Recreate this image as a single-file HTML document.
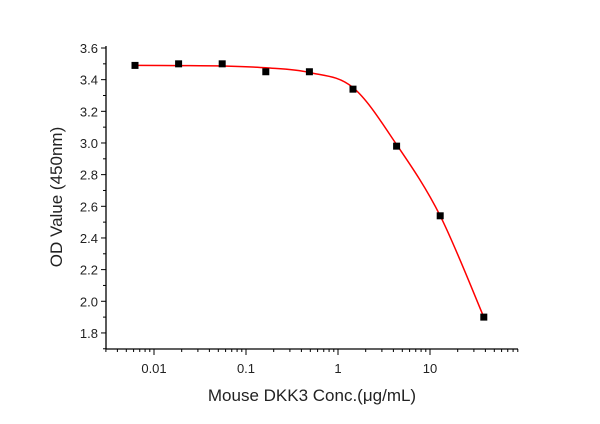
<!DOCTYPE html>
<html><head><meta charset="utf-8"><style>
html,body{margin:0;padding:0;background:#fff;}
svg text{font-family:"Liberation Sans",sans-serif;fill:#222;}
</style></head><body>
<svg id="s" width="600" height="419" xmlns="http://www.w3.org/2000/svg"></svg>
<script>
var s=document.getElementById('s'),h='';
function Y(v){return 48+(3.6-v)*158.3;}
function X(x){return 338+Math.log10(x)*92;}
h+='<line x1="106" y1="46" x2="106" y2="349" stroke="#000" stroke-width="1.3"/>';
h+='<line x1="106" y1="349" x2="518" y2="349" stroke="#000" stroke-width="1.3"/>';
for(var i=0;i<=19;i++){var v=1.7+i*0.1;var y=Y(v);var maj=(i%2==1);
 h+='<line x1="'+(maj?101:103)+'" y1="'+y+'" x2="106" y2="'+y+'" stroke="#000"/>';
 if(maj)h+='<text x="98" y="'+(y+5)+'" font-size="13" text-anchor="end">'+v.toFixed(1)+'</text>';}
for(var d=-3;d<=1;d++){for(var m=1;m<=9;m++){var x=Math.pow(10,d)*m;if(x<0.003||x>90.1)continue;var px=X(x);
 var maj=(m==1);h+='<line x1="'+px+'" y1="349" x2="'+px+'" y2="'+(maj?355:352)+'" stroke="#000"/>';
 if(maj)h+='<text x="'+px+'" y="373" font-size="13" text-anchor="middle">'+(d<0?x.toFixed(-d):x)+'</text>';}}
var cv=[3.49,3.489,3.486,3.475,3.445,3.35,2.99,2.54,1.90];
var P=cv.map(function(v,i){return [135+43.6*i,Y(v)];});
var p='M'+P[0][0]+','+P[0][1];
for(var i=0;i<P.length-1;i++){var p0=P[Math.max(i-1,0)],p1=P[i],p2=P[i+1],p3=P[Math.min(i+2,P.length-1)];
 p+='C'+(p1[0]+(p2[0]-p0[0])/6).toFixed(1)+','+(p1[1]+(p2[1]-p0[1])/6).toFixed(1)+' '+(p2[0]-(p3[0]-p1[0])/6).toFixed(1)+','+(p2[1]-(p3[1]-p1[1])/6).toFixed(1)+' '+p2[0].toFixed(1)+','+p2[1].toFixed(1);}
h+='<path d="'+p+'" fill="none" stroke="#f00" stroke-width="1.5"/>';
var ys=[3.49,3.50,3.50,3.45,3.45,3.34,2.98,2.54,1.90];
for(var i=0;i<9;i++){var px=135+43.6*i,py=Y(ys[i]);h+='<rect x="'+(px-3.5)+'" y="'+(py-3.5)+'" width="7" height="7" fill="#000"/>';}
h+='<text transform="translate(62,197) rotate(-90)" font-size="17" text-anchor="middle">OD Value (450nm)</text>';
h+='<text x="312" y="401" font-size="17" text-anchor="middle">Mouse DKK3 Conc.(μg/mL)</text>';
s.innerHTML=h;
</script>
</body></html>
